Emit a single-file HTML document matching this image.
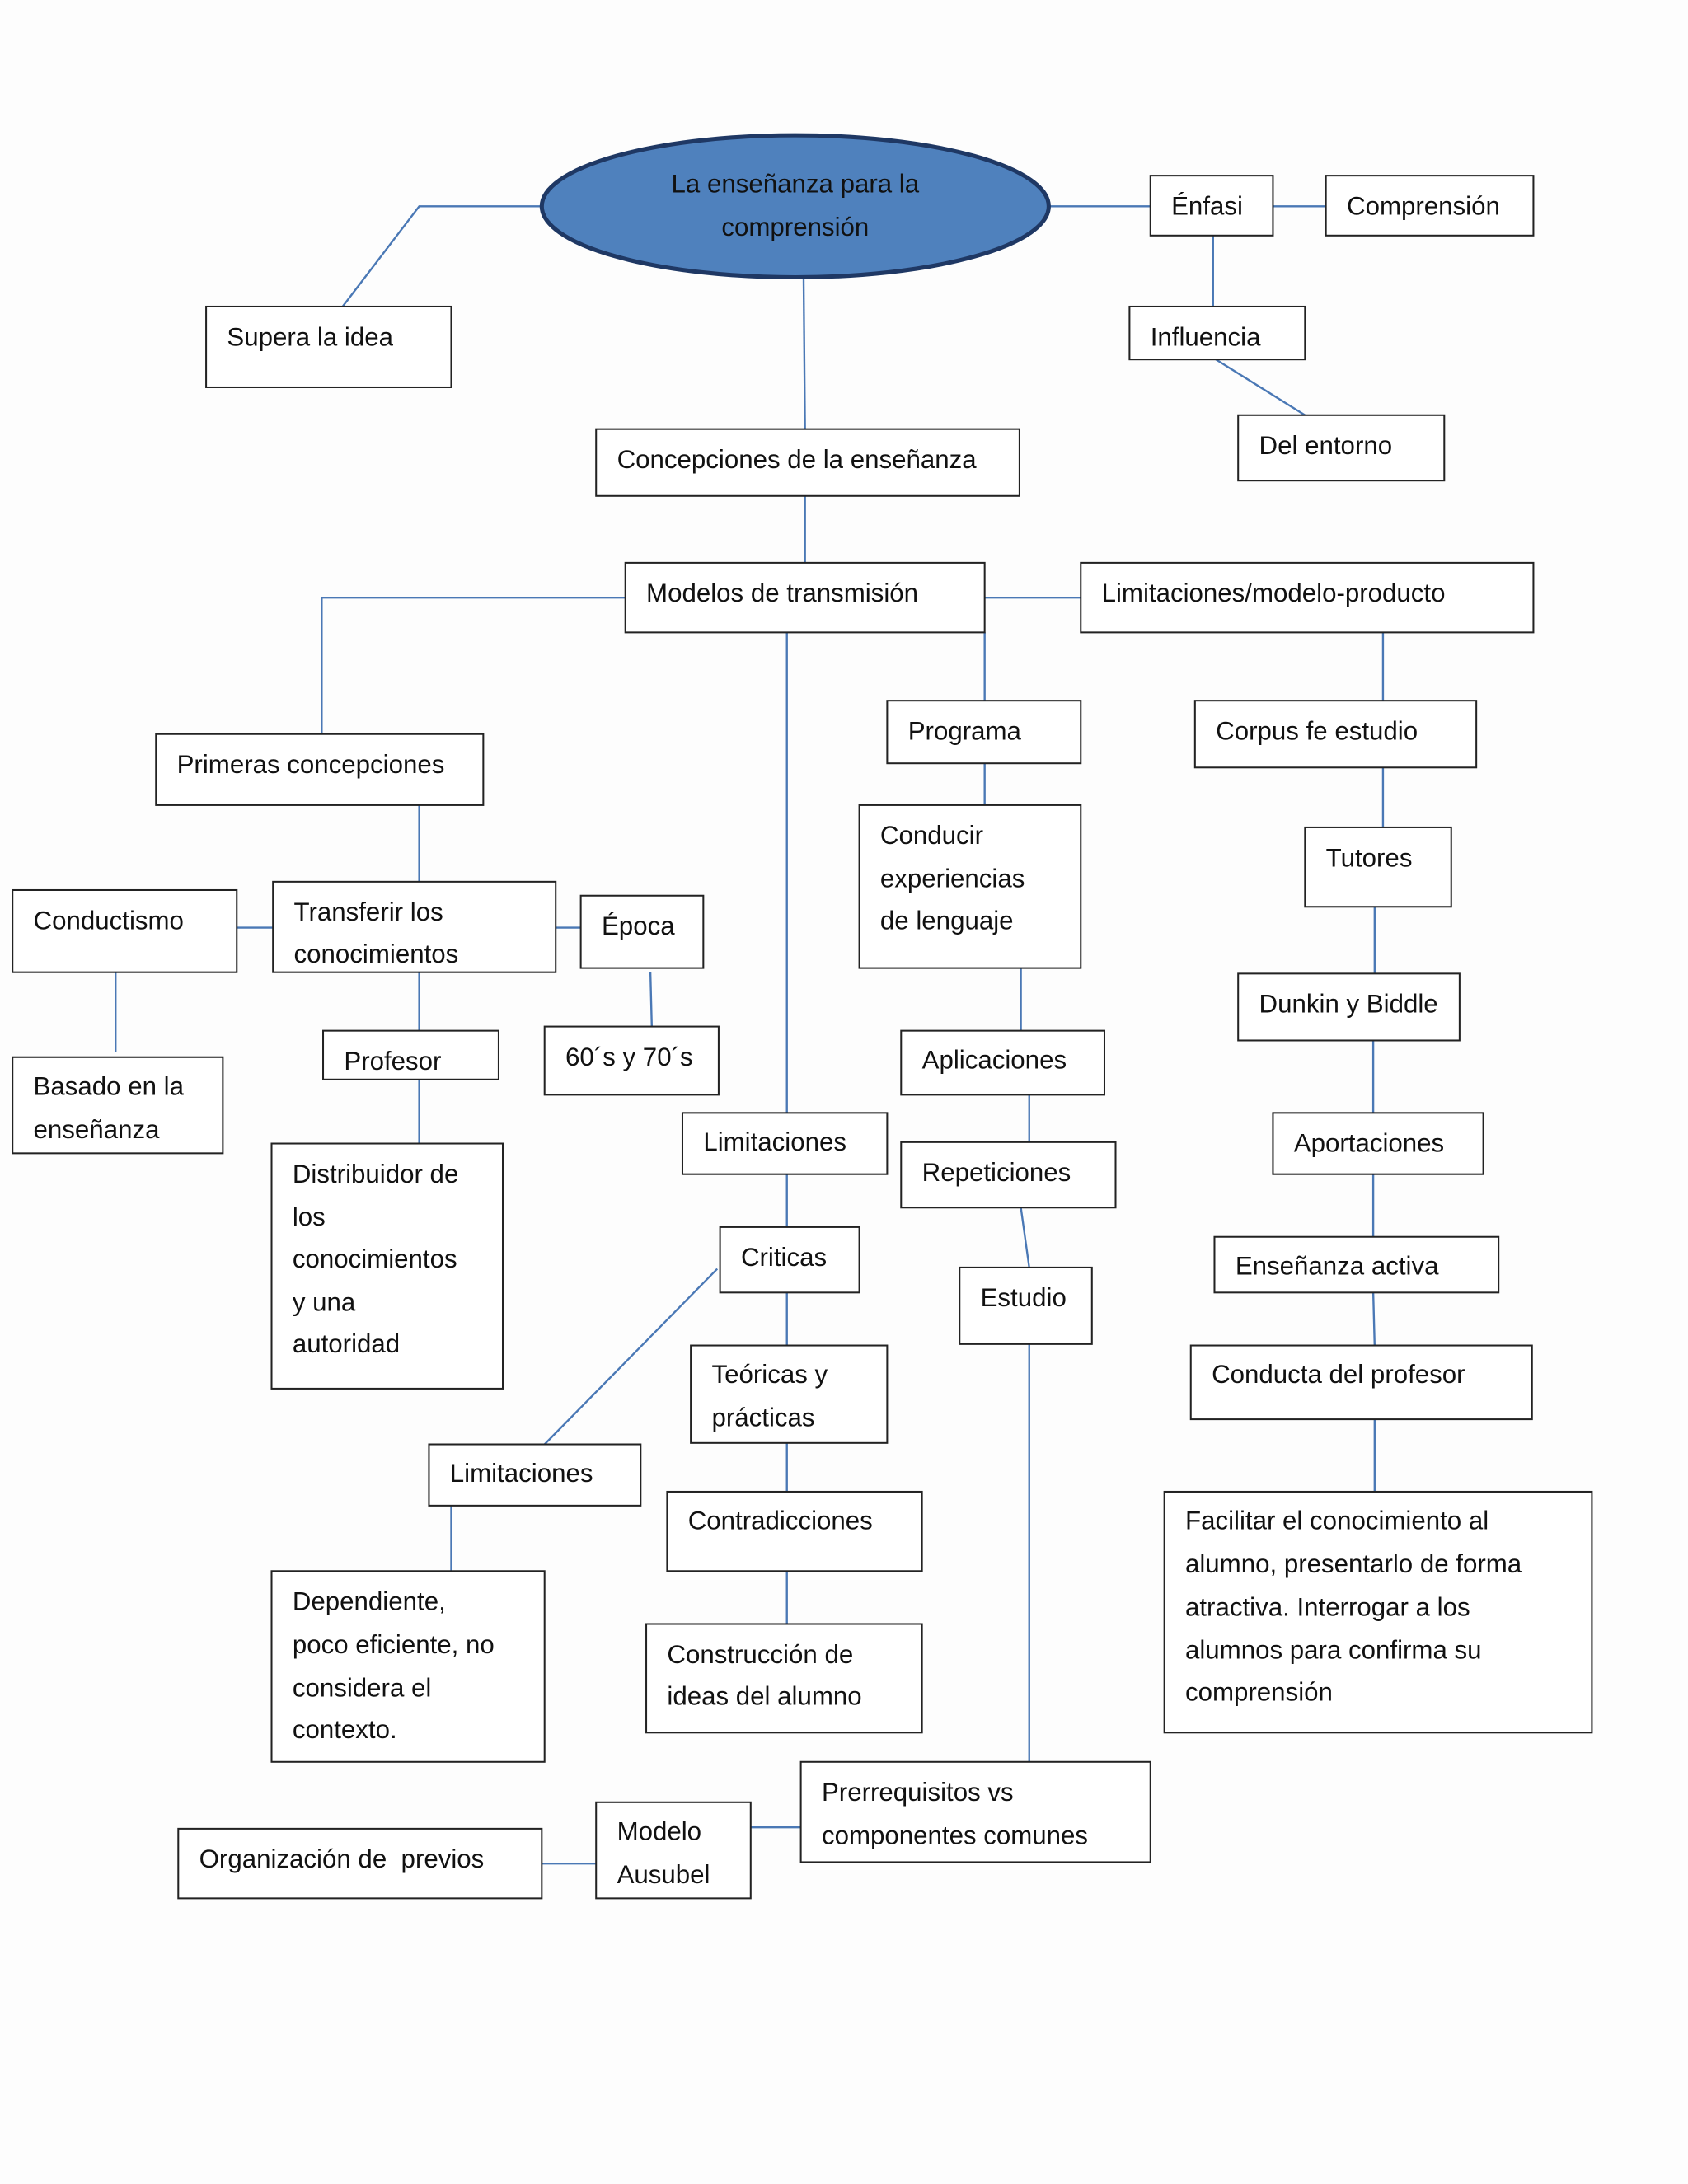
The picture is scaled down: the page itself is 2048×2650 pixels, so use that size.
<!DOCTYPE html>
<html><head><meta charset="utf-8"><style>
html,body{margin:0;padding:0;background:#fdfdfd;}
svg{display:block;}
text{font-family:"Liberation Sans",sans-serif;font-size:18.5px;fill:#111;}
rect{fill:#fff;stroke:#222;stroke-width:1.2;}
line,polyline{stroke:#4a78b5;stroke-width:1.4;fill:none;}
</style></head><body>
<svg width="2048" height="2650" viewBox="0 0 1212 1568" xmlns="http://www.w3.org/2000/svg">
<rect x="0" y="0" width="1212" height="1568" style="fill:#fdfdfd;stroke:none"/>
<polyline points="246,220 301,148 388,148"/>
<line x1="754" y1="148" x2="826" y2="148"/>
<line x1="914" y1="148" x2="952" y2="148"/>
<line x1="871" y1="169" x2="871" y2="220"/>
<line x1="873" y1="258" x2="937" y2="298"/>
<line x1="577" y1="200" x2="578" y2="308"/>
<line x1="578" y1="356" x2="578" y2="404"/>
<polyline points="449,429 231,429 231,527"/>
<line x1="707" y1="429" x2="776" y2="429"/>
<line x1="707" y1="454" x2="707" y2="503"/>
<line x1="707" y1="548" x2="707" y2="578"/>
<line x1="733" y1="695" x2="733" y2="740"/>
<line x1="739" y1="786" x2="739" y2="820"/>
<line x1="733" y1="867" x2="739" y2="910"/>
<line x1="739" y1="965" x2="739" y2="1265"/>
<line x1="539" y1="1312" x2="575" y2="1312"/>
<line x1="389" y1="1338" x2="428" y2="1338"/>
<line x1="565" y1="454" x2="565" y2="799"/>
<line x1="565" y1="843" x2="565" y2="881"/>
<line x1="515" y1="911" x2="391" y2="1037"/>
<line x1="324" y1="1081" x2="324" y2="1128"/>
<line x1="565" y1="928" x2="565" y2="966"/>
<line x1="565" y1="1036" x2="565" y2="1071"/>
<line x1="565" y1="1128" x2="565" y2="1166"/>
<line x1="993" y1="454" x2="993" y2="503"/>
<line x1="993" y1="551" x2="993" y2="594"/>
<line x1="987" y1="651" x2="987" y2="699"/>
<line x1="986" y1="747" x2="986" y2="799"/>
<line x1="986" y1="843" x2="986" y2="888"/>
<line x1="986" y1="928" x2="987" y2="966"/>
<line x1="987" y1="1019" x2="987" y2="1071"/>
<line x1="301" y1="578" x2="301" y2="633"/>
<line x1="170" y1="666" x2="196" y2="666"/>
<line x1="399" y1="666" x2="417" y2="666"/>
<line x1="83" y1="698" x2="83" y2="755"/>
<line x1="467" y1="698" x2="468" y2="737"/>
<line x1="301" y1="698" x2="301" y2="740"/>
<line x1="301" y1="775" x2="301" y2="821"/>
<ellipse cx="571" cy="148" rx="182" ry="51" style="fill:#4f81bd;stroke:#1f3864;stroke-width:3"/>
<text x="571" y="138" text-anchor="middle">La enseñanza para la</text>
<text x="571" y="169" text-anchor="middle">comprensión</text>
<rect x="148" y="220" width="176" height="58"/><text x="163" y="248">Supera la idea</text>
<rect x="826" y="126" width="88" height="43"/><text x="841" y="154">Énfasi</text>
<rect x="952" y="126" width="149" height="43"/><text x="967" y="154">Comprensión</text>
<rect x="811" y="220" width="126" height="38"/><text x="826" y="248">Influencia</text>
<rect x="889" y="298" width="148" height="47"/><text x="904" y="326">Del entorno</text>
<rect x="428" y="308" width="304" height="48"/><text x="443" y="336">Concepciones de la enseñanza</text>
<rect x="449" y="404" width="258" height="50"/><text x="464" y="432">Modelos de transmisión</text>
<rect x="776" y="404" width="325" height="50"/><text x="791" y="432">Limitaciones/modelo-producto</text>
<rect x="637" y="503" width="139" height="45"/><text x="652" y="531">Programa</text>
<rect x="617" y="578" width="159" height="117"/><text x="632" y="606">Conducir</text><text x="632" y="637">experiencias</text><text x="632" y="667">de lenguaje</text>
<rect x="647" y="740" width="146" height="46"/><text x="662" y="767">Aplicaciones</text>
<rect x="647" y="820" width="154" height="47"/><text x="662" y="848">Repeticiones</text>
<rect x="689" y="910" width="95" height="55"/><text x="704" y="938">Estudio</text>
<rect x="575" y="1265" width="251" height="72"/><text x="590" y="1293">Prerrequisitos vs</text><text x="590" y="1324">componentes comunes</text>
<rect x="428" y="1294" width="111" height="69"/><text x="443" y="1321">Modelo</text><text x="443" y="1352">Ausubel</text>
<rect x="128" y="1313" width="261" height="50"/><text x="143" y="1341" xml:space="preserve">Organización de  previos</text>
<rect x="490" y="799" width="147" height="44"/><text x="505" y="826">Limitaciones</text>
<rect x="517" y="881" width="100" height="47"/><text x="532" y="909">Criticas</text>
<rect x="308" y="1037" width="152" height="44"/><text x="323" y="1064">Limitaciones</text>
<rect x="195" y="1128" width="196" height="137"/><text x="210" y="1156">Dependiente,</text><text x="210" y="1187">poco eficiente, no</text><text x="210" y="1218">considera el</text><text x="210" y="1248">contexto.</text>
<rect x="496" y="966" width="141" height="70"/><text x="511" y="993">Teóricas y</text><text x="511" y="1024">prácticas</text>
<rect x="479" y="1071" width="183" height="57"/><text x="494" y="1098">Contradicciones</text>
<rect x="464" y="1166" width="198" height="78"/><text x="479" y="1194">Construcción de</text><text x="479" y="1224">ideas del alumno</text>
<rect x="858" y="503" width="202" height="48"/><text x="873" y="531">Corpus fe estudio</text>
<rect x="937" y="594" width="105" height="57"/><text x="952" y="622">Tutores</text>
<rect x="889" y="699" width="159" height="48"/><text x="904" y="727">Dunkin y Biddle</text>
<rect x="914" y="799" width="151" height="44"/><text x="929" y="827">Aportaciones</text>
<rect x="872" y="888" width="204" height="40"/><text x="887" y="915">Enseñanza activa</text>
<rect x="855" y="966" width="245" height="53"/><text x="870" y="993">Conducta del profesor</text>
<rect x="836" y="1071" width="307" height="173"/><text x="851" y="1098">Facilitar el conocimiento al</text><text x="851" y="1129">alumno, presentarlo de forma</text><text x="851" y="1160">atractiva. Interrogar a los</text><text x="851" y="1191">alumnos para confirma su</text><text x="851" y="1221">comprensión</text>
<rect x="112" y="527" width="235" height="51"/><text x="127" y="555">Primeras concepciones</text>
<rect x="196" y="633" width="203" height="65"/><text x="211" y="661">Transferir los</text><text x="211" y="691">conocimientos</text>
<rect x="9" y="639" width="161" height="59"/><text x="24" y="667">Conductismo</text>
<rect x="9" y="759" width="151" height="69"/><text x="24" y="786">Basado en la</text><text x="24" y="817">enseñanza</text>
<rect x="417" y="643" width="88" height="52"/><text x="432" y="671">Época</text>
<rect x="391" y="737" width="125" height="49"/><text x="406" y="765">60´s y 70´s</text>
<rect x="232" y="740" width="126" height="35"/><text x="247" y="768">Profesor</text>
<rect x="195" y="821" width="166" height="176"/><text x="210" y="849">Distribuidor de</text><text x="210" y="880">los</text><text x="210" y="910">conocimientos</text><text x="210" y="941">y una</text><text x="210" y="971">autoridad</text>
</svg>
</body></html>
